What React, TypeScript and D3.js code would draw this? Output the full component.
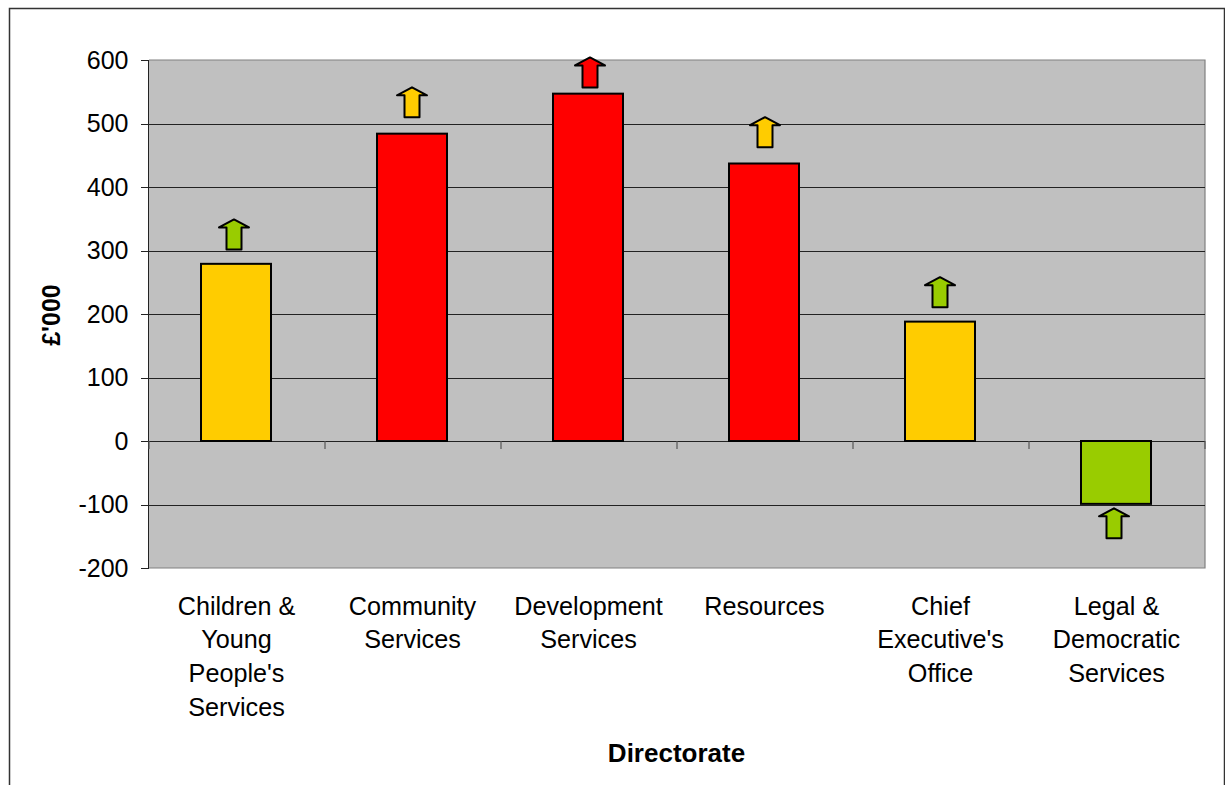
import React from "react";
import * as d3 from "d3";

const directorates = [
  ["Children &", "Young", "People's", "Services"],
  ["Community", "Services"],
  ["Development", "Services"],
  ["Resources"],
  ["Chief", "Executive's", "Office"],
  ["Legal &", "Democratic", "Services"],
];
const variance = [279, 484, 547, 437, 188, -99];
const barColours = ["#ffcc00", "#ff0000", "#ff0000", "#ff0000", "#ffcc00", "#99cc00"];
const arrowTips = [349, 557, 604, 510, 258, -106];
const arrowColours = ["#99cc00", "#ffcc00", "#ff0000", "#ffcc00", "#99cc00", "#99cc00"];
const yTicks = [600, 500, 400, 300, 200, 100, 0, -100, -200];

const font = "'Liberation Sans', Arial, sans-serif";
const plot = { left: 149, right: 1205, top: 60, bottom: 568 };
const barWidth = 70;
const arrowNudge = [-3, -1, 1, 0, -1, -3];

export default function App() {
  const x = d3
    .scaleBand<number>()
    .domain(d3.range(directorates.length))
    .range([plot.left, plot.right]);
  const y = d3.scaleLinear().domain([-200, 600]).range([plot.bottom, plot.top]);
  const zero = y(0);
  const dividers = d3.range(directorates.length + 1).map((i) => plot.left + i * x.bandwidth());

  return (
    <svg
      width={1225}
      height={785}
      style={{ position: "absolute", left: 0, top: 0, background: "#fff" }}
      fontFamily={font}
    >
      {/* outer chart frame, open at the bottom */}
      <path d="M9.5 785V8.5H1224.5V785" fill="none" stroke="#333" strokeWidth={1.5} />

      <rect
        x={plot.left}
        y={plot.top}
        width={plot.right - plot.left}
        height={plot.bottom - plot.top}
        fill="#c0c0c0"
      />
      <path
        d={`M${plot.left} ${plot.top}H${plot.right}V${plot.bottom}H${plot.left}`}
        fill="none"
        stroke="#808080"
        strokeWidth={1.2}
      />

      {yTicks
        .filter((t) => t !== 600 && t !== -200)
        .map((t) => (
          <line
            key={t}
            x1={plot.left}
            x2={plot.right}
            y1={Math.round(y(t)) + 0.5}
            y2={Math.round(y(t)) + 0.5}
            stroke="#222"
            strokeWidth={1}
          />
        ))}

      {/* value axis */}
      <line x1={plot.left - 0.5} x2={plot.left - 0.5} y1={plot.top} y2={plot.bottom} stroke="#222" />
      {yTicks.map((t) => (
        <g key={t}>
          <line
            x1={plot.left - 8}
            x2={plot.left}
            y1={Math.round(y(t)) + 0.5}
            y2={Math.round(y(t)) + 0.5}
            stroke="#222"
          />
          <text x={128.5} y={y(t) + 8.5} textAnchor="end" fontSize={25} fill="#000">
            {t}
          </text>
        </g>
      ))}

      {/* category axis sits on the zero line */}
      {dividers.map((d) => (
        <line key={d} x1={d} x2={d} y1={zero} y2={zero + 8} stroke="#555" strokeWidth={1.2} />
      ))}

      {variance.map((v, i) => {
        const cx = x(i)! + x.bandwidth() / 2 - 1;
        return (
          <rect
            key={i}
            x={cx - barWidth / 2}
            y={Math.min(y(v), zero)}
            width={barWidth}
            height={Math.abs(y(v) - zero)}
            fill={barColours[i]}
            stroke="#000"
            strokeWidth={2}
          />
        );
      })}

      {/* direction-of-travel arrows */}
      {arrowTips.map((tip, i) => {
        const cx = x(i)! + x.bandwidth() / 2 + arrowNudge[i];
        const t = y(tip);
        const path = d3.path();
        path.moveTo(cx, t);
        path.lineTo(cx + 15, t + 8);
        path.lineTo(cx + 7.5, t + 8);
        path.lineTo(cx + 7.5, t + 30);
        path.lineTo(cx - 7.5, t + 30);
        path.lineTo(cx - 7.5, t + 8);
        path.lineTo(cx - 15, t + 8);
        path.closePath();
        return (
          <path
            key={i}
            d={path.toString()}
            fill={arrowColours[i]}
            stroke="#000"
            strokeWidth={2}
            strokeLinejoin="round"
          />
        );
      })}

      {directorates.map((lines, i) => (
        <text key={i} textAnchor="middle" fontSize={25.2} fill="#000">
          {lines.map((line, j) => (
            <tspan key={j} x={x(i)! + x.bandwidth() / 2 - 0.5} y={614.5 + j * 33.7}>
              {line}
            </tspan>
          ))}
        </text>
      ))}

      <text x={676.5} y={762} textAnchor="middle" fontSize={26} fontWeight="bold" fill="#000">
        Directorate
      </text>
      <text
        transform="translate(60 315) rotate(-90)"
        textAnchor="middle"
        fontSize={25}
        fontWeight="bold"
        fill="#000"
      >
        £'000
      </text>
    </svg>
  );
}
